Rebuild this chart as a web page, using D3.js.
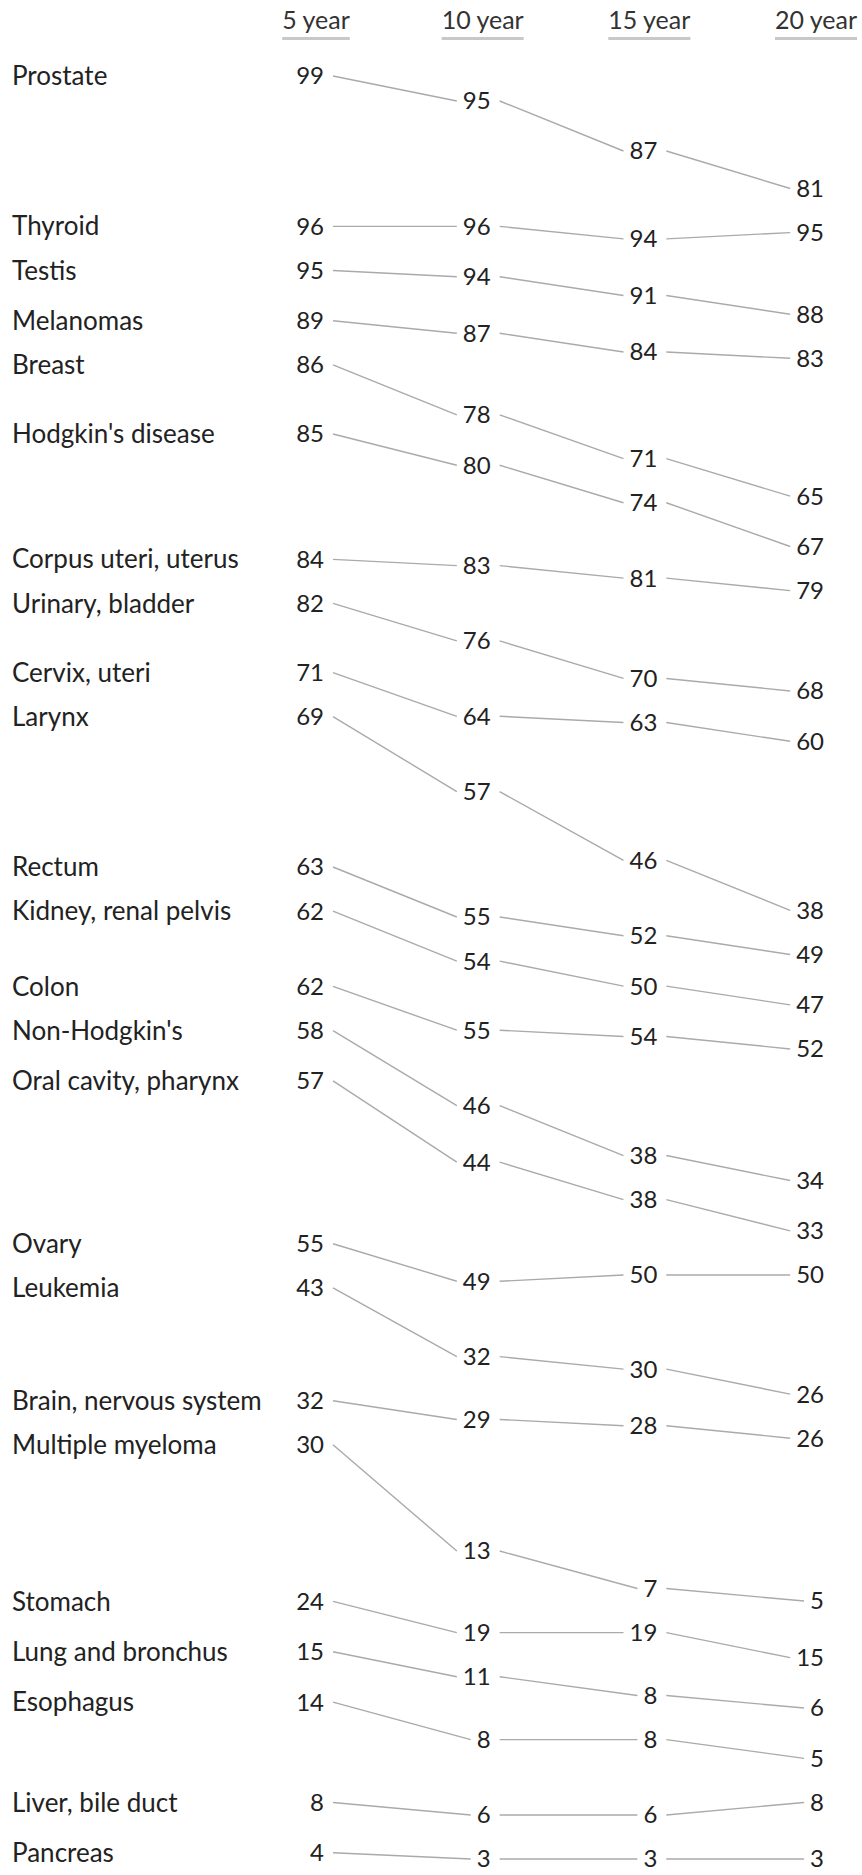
<!DOCTYPE html>
<html>
<head>
<meta charset="utf-8">
<script src="https://d3js.org/d3.v7.min.js"></script>
<style>
body { margin: 0; background: #fff; }
svg text { font-family: Lato, "Open Sans", sans-serif; fill: #222; }
</style>
</head>
<body>
<svg width="862" height="1875"></svg>
<script>
var years = ["5 year", "10 year", "15 year", "20 year"];
var cancers = ["Prostate", "Thyroid", "Testis", "Melanomas", "Breast", "Hodgkin's disease",
    "Corpus uteri, uterus", "Urinary, bladder", "Cervix, uteri", "Larynx", "Rectum",
    "Kidney, renal pelvis", "Colon", "Non-Hodgkin's", "Oral cavity, pharynx", "Ovary",
    "Leukemia", "Brain, nervous system", "Multiple myeloma", "Stomach", "Lung and bronchus",
    "Esophagus", "Liver, bile duct", "Pancreas"];
var survival5  = [99, 96, 95, 89, 86, 85, 84, 82, 71, 69, 63, 62, 62, 58, 57, 55, 43, 32, 30, 24, 15, 14, 8, 4];
var survival10 = [95, 96, 94, 87, 78, 80, 83, 76, 64, 57, 55, 54, 55, 46, 44, 49, 32, 29, 13, 19, 11, 8, 6, 3];
var survival15 = [87, 94, 91, 84, 71, 74, 81, 70, 63, 46, 52, 50, 54, 38, 38, 50, 30, 28, 7, 19, 8, 8, 6, 3];
var survival20 = [81, 95, 88, 83, 65, 67, 79, 68, 60, 38, 49, 47, 52, 34, 33, 50, 26, 26, 5, 15, 6, 5, 8, 3];

var series = [survival5, survival10, survival15, survival20];
var rows = cancers.map((name, i) => ({name: name, values: series.map(s => s[i])}));

var svg = d3.select("svg");
var numSize = 24, nameSize = 26, headSize = 25;
var pxPerPoint = 6.25;   // vertical drop per percentage point inside a row
var rowGap = 44.1;       // minimum distance between two labels in the same column

// stack the rows: each one sits as high as it can while staying rowGap
// below everything above it, in every column
var gapUnits = rowGap / pxPerPoint;
var floor = years.map(() => -Infinity);
rows.forEach(r => {
    var drops = r.values.map(v => r.values[0] - v);
    var start = 0;
    drops.forEach((d, c) => { start = Math.max(start, floor[c] - d + gapUnits); });
    r.pos = drops.map(d => start + d);
    r.pos.forEach((p, c) => { floor[c] = Math.max(floor[c], p); });
});
var total = d3.max(floor);

var y = d3.scaleLinear().domain([0, total]).range([76, 76 + total * pxPerPoint]);
var x = d3.scalePoint().domain(years).range([324, 824]);

// column heads
var heads = svg.append("g").attr("class", "heads")
    .selectAll("g").data(years).enter().append("g");
heads.append("text")
    .attr("x", d => x(d) - 8)
    .attr("y", 29)
    .attr("text-anchor", "middle")
    .style("font-size", headSize + "px")
    .style("fill", "#333")
    .text(d => d);
heads.each(function() {
    var t = d3.select(this).select("text");
    var w = t.node().getComputedTextLength();
    var cx = +t.attr("x");
    d3.select(this).append("line")
        .attr("x1", cx - w / 2).attr("x2", cx + w / 2)
        .attr("y1", 38.5).attr("y2", 38.5)
        .attr("stroke", "#c8c8c8").attr("stroke-width", 3);
});

// row names
svg.append("g").attr("class", "names")
    .selectAll("text").data(rows).enter().append("text")
    .attr("x", 12)
    .attr("y", d => y(d.pos[0]))
    .attr("dy", "0.35em")
    .style("font-size", nameSize + "px")
    .text(d => d.name);

// numbers and the slopes between them
var rowG = svg.append("g").attr("class", "rows")
    .selectAll("g").data(rows).enter().append("g");

rowG.each(function(r) {
    var g = d3.select(this);
    var widths = [];
    r.values.forEach((v, c) => {
        var t = g.append("text")
            .attr("x", x(years[c]))
            .attr("y", y(r.pos[c]))
            .attr("dy", "0.35em")
            .attr("text-anchor", "end")
            .style("font-size", numSize + "px")
            .text(v);
        widths.push(t.node().getComputedTextLength());
    });
    for (var c = 0; c < years.length - 1; c++) {
        g.insert("line", "text")
            .attr("x1", x(years[c]) + 9)
            .attr("y1", y(r.pos[c]))
            .attr("x2", x(years[c + 1]) - widths[c + 1] - 6)
            .attr("y2", y(r.pos[c + 1]))
            .attr("stroke", "#aaa")
            .attr("stroke-width", 1.4);
    }
});
</script>
</body>
</html>
